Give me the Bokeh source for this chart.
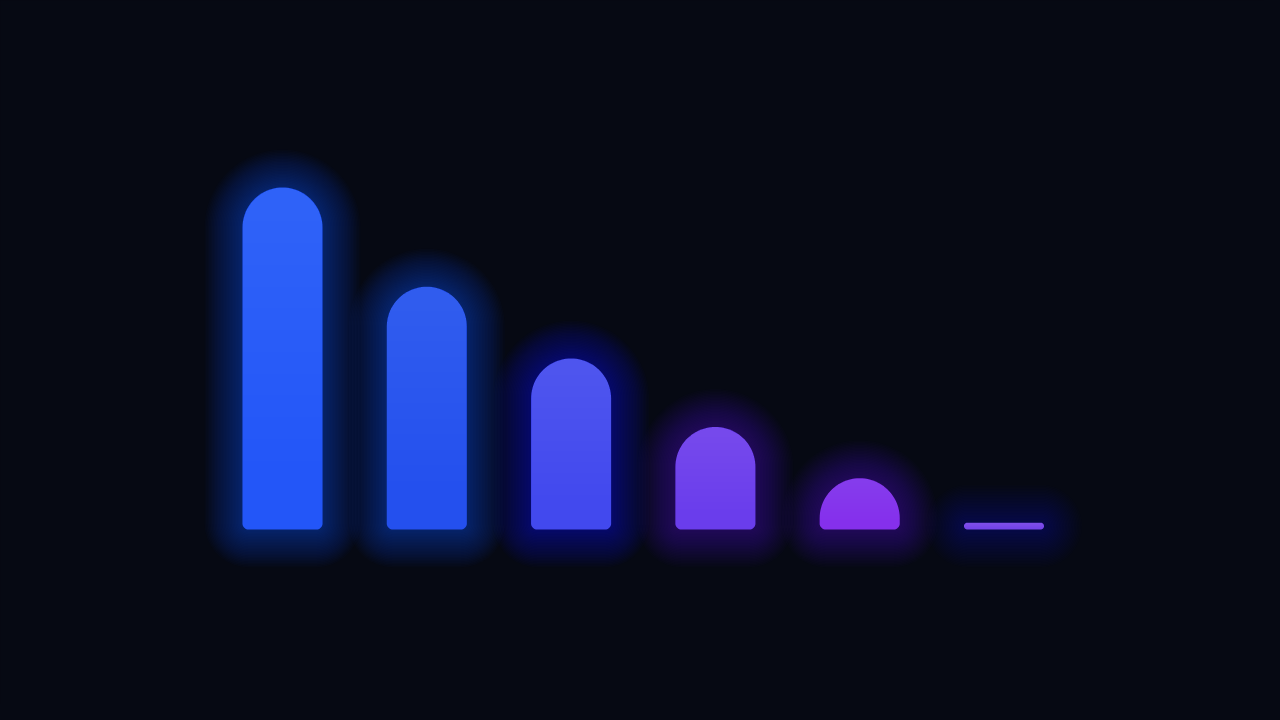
import numpy as np
from bokeh.plotting import figure
from bokeh.models import Range1d
from bokeh.embed import file_html
from bokeh.resources import INLINE

# ---- data ----
categories = ["A", "B", "C", "D", "E", "F"]
values = [100, 71, 50, 30, 15, 2]
colors = ["#2356f8", "#2450ee", "#4249ee", "#6a3dec", "#8530ec", "#7444e8"]
glow_alpha = [0.02, 0.019, 0.018, 0.017, 0.016, 0.01]

BG = "#060913"
W, H = 1264, 704
SX = 144.3   # px per category step
SY = 3.42    # px per value unit
X0 = -282 / SX
X1 = X0 + W / SX
Y1 = 529 / SY
Y0 = Y1 - H / SY
BAR_W = 0.555

p = figure(width=W, height=H, output_backend="svg", toolbar_location=None,
           x_range=Range1d(X0, X1), y_range=Range1d(Y0, Y1),
           min_border=0, background_fill_color=BG, border_fill_color=BG,
           outline_line_color=None)
p.axis.visible = False
p.grid.visible = False

sx = W / (X1 - X0)
sy = H / (Y1 - Y0)


def rounded_bar(cx, val, grow=0.0, cut_frac=None):
    hw = BAR_W * sx / 2.0
    h = val * sy
    rb = min(6.0, h / 2.0)
    rt = min(hw, h - rb)
    hw2, rb2, rt2 = hw + grow, rb + grow, rt + grow
    top = h + grow
    bot = -grow
    xs, ys = [], []
    for a in np.linspace(np.pi, 1.5 * np.pi, 10):
        xs.append(-hw2 + rb2 + rb2 * np.cos(a)); ys.append(bot + rb2 + rb2 * np.sin(a))
    for a in np.linspace(1.5 * np.pi, 2 * np.pi, 10):
        xs.append(hw2 - rb2 + rb2 * np.cos(a)); ys.append(bot + rb2 + rb2 * np.sin(a))
    for a in np.linspace(0, 0.5 * np.pi, 24):
        xs.append(hw2 - rt2 + rt2 * np.cos(a)); ys.append(top - rt2 + rt2 * np.sin(a))
    for a in np.linspace(0.5 * np.pi, np.pi, 24):
        xs.append(-hw2 + rt2 + rt2 * np.cos(a)); ys.append(top - rt2 + rt2 * np.sin(a))
    if cut_frac is not None:
        cut = h * cut_frac
        ys = [max(y, cut) for y in ys]
    return [cx + x / sx for x in xs], [y / sy for y in ys]


# glow layers (outermost first)
for g in np.arange(38, 0, -1.5):
    gx, gy = [], []
    for i, v in enumerate(values):
        xs, ys = rounded_bar(i, v, g)
        gx.append(xs); gy.append(ys)
    p.patches(gx, gy, fill_color=colors, fill_alpha=glow_alpha, line_color=None)

# bars
bx, by = [], []
for i, v in enumerate(values):
    xs, ys = rounded_bar(i, v)
    bx.append(xs); by.append(ys)
p.patches(bx, by, fill_color=colors, fill_alpha=1.0, line_color=None)

# soft vertical light gradient toward the top
for frac in np.linspace(0.2, 0.9, 12):
    hx, hy = [], []
    for i, v in enumerate(values):
        xs, ys = rounded_bar(i, v, cut_frac=frac)
        hx.append(xs); hy.append(ys)
    p.patches(hx, hy, fill_color="white", fill_alpha=0.006, line_color=None)

html = file_html(p, INLINE)
html = html.replace("<head>", "<head><style>html,body{background:%s;}</style>" % BG, 1)
open("out.html", "w").write(html)
